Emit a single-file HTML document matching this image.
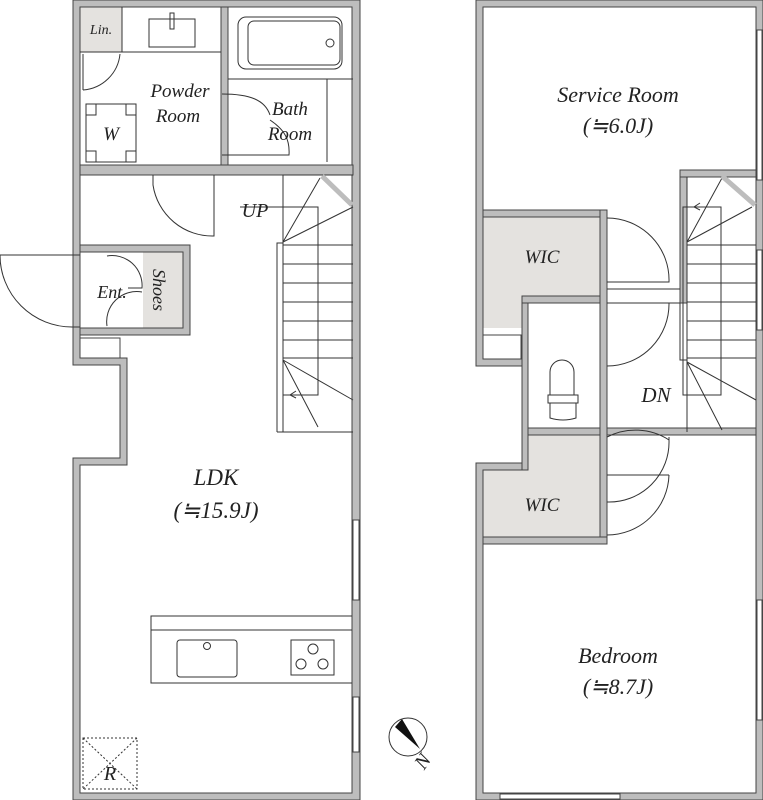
<!DOCTYPE html>
<html><head><style>body{margin:0;background:#fff}svg{display:block}</style></head><body>
<svg width="763" height="800" viewBox="0 0 763 800" xmlns="http://www.w3.org/2000/svg">
<g fill="#e4e2df" stroke="none">
<rect x="80" y="7" width="42" height="45"/>
<rect x="143" y="252" width="40" height="76"/>
<path d="M483 217H600V296H522V328H483Z"/>
<path d="M528 435H600V537H483V470H528Z"/>
</g>
<g fill="#bdbdbd" stroke="#444" stroke-width="1">
<path d="M73 0H360V800H73V458H120V365H73Z M80 7V358H127V465H80V793H352V7Z" fill-rule="evenodd"/>
<rect x="80" y="165" width="273" height="10"/>
<rect x="221" y="7" width="7" height="158"/>
<path d="M80 245H190V335H80V328H183V252H80Z"/>
<rect x="80" y="338" width="40" height="20" fill="#fff"/>
<path d="M476 0H763V800H476V463H522V366H476Z M483 7V359H528V470H483V793H756V7Z" fill-rule="evenodd"/>
<rect x="483" y="210" width="124" height="7"/>
<rect x="600" y="210" width="7" height="334"/>
<rect x="522" y="296" width="78" height="7"/>
<rect x="522" y="303" width="6" height="167"/>
<rect x="528" y="428" width="72" height="7"/>
<rect x="483" y="537" width="124" height="7"/>
<rect x="607" y="428" width="149" height="7"/>
<rect x="680" y="170" width="76" height="7"/>
<rect x="680" y="177" width="7" height="126"/>
<rect x="483" y="335" width="38" height="24" fill="#fff"/>
</g>
<g fill="#fff" stroke="#444" stroke-width="1">
<rect x="353" y="520" width="6" height="80"/><rect x="353" y="697" width="6" height="55"/>
<rect x="757" y="30" width="5" height="150"/><rect x="757" y="250" width="5" height="80"/><rect x="757" y="600" width="5" height="120"/>
<rect x="500" y="794" width="120" height="5"/>
</g>
<g fill="none" stroke="#333" stroke-width="1">
<line x1="80" y1="52" x2="221" y2="52"/><line x1="122" y1="7" x2="122" y2="52"/>
<rect x="149" y="19" width="46" height="28"/><rect x="170" y="13" width="4" height="16"/>
<path d="M83 90A40 40 0 0 0 120 54"/><line x1="83" y1="54" x2="83" y2="90"/>
<rect x="86" y="104" width="50" height="58"/>
<path d="M86 115h10v-11M126 104v11h10M86 151h10v11M126 162v-11h10"/>
<rect x="238" y="17" width="104" height="52" rx="8"/><rect x="248" y="21" width="92" height="44" rx="6"/>
<circle cx="330" cy="43" r="4"/>
<line x1="228" y1="79" x2="353" y2="79"/><line x1="327" y1="79" x2="327" y2="162"/>
<path d="M222 94C250 94 265 100 270 115M270 120C285 130 290 140 289 155H222"/>
<path d="M153 175V185A60 60 0 0 0 214 236V175"/>
<path d="M0 255H80M0 255A72 72 0 0 0 72 327H80"/>
<path d="M107 256A30 30 0 0 1 142 288H128"/><path d="M107 326A30 30 0 0 1 142 292"/>
<path d="M277 432V243H283V175H353M283 243V432H277M277 432H353"/>
<path d="M283 245H353M283 264H353M283 283H353M283 302H353M283 321H353M283 340H353M283 358H353"/>
<rect x="283" y="207" width="35" height="188"/>
<path d="M283 242L320 178M283 242L353 207M283 360L353 400M283 360L318 427"/>
<path d="M352 616H151V683H352M151 630H352"/>
<rect x="177" y="640" width="60" height="37" rx="3"/><circle cx="207" cy="646" r="3.5"/>
<rect x="291" y="640" width="43" height="35"/>
<circle cx="313" cy="649" r="5"/><circle cx="301" cy="664" r="5"/><circle cx="323" cy="664" r="5"/>
<path d="M83 738H137V789H83ZM83 738L137 789M137 738L83 789" stroke-dasharray="2 2"/>
<path d="M607 218A62 62 0 0 1 669 282H607M607 289H680"/>
<path d="M607 303H680M607 366A62 62 0 0 0 669 303"/>
<path d="M607 437A62 62 0 0 1 669 440V437M607 475H669M607 502A60 60 0 0 0 669 440"/>
<path d="M607 535A62 62 0 0 0 669 475"/>
<path d="M550 395V372A12 12 0 0 1 574 372V395"/><rect x="548" y="395" width="30" height="8"/>
<path d="M550 403V418Q563 422 576 418V403"/>
<path d="M680 303V360H687V177M687 360V432"/>
<path d="M687 245H756M687 264H756M687 283H756M687 302H756M687 321H756M687 340H756M687 358H756"/>
<rect x="683" y="207" width="38" height="188"/>
<path d="M687 242L722 178M687 242L752 207M687 362L756 400M687 362L722 430"/>
<path d="M718 207H694M700 203L694 207L700 210"/>
<path d="M318 395H290M296 391L290 395L296 398"/>
<line x1="240" y1="207" x2="318" y2="207"/>
<circle cx="408" cy="737" r="19"/>
</g>
<g stroke="#bdbdbd" stroke-width="5"><path d="M322 176L352 205M722 176L755 205"/></g>
<path d="M402 719L420 749L395 727Z" fill="#111"/>
<g font-family="Liberation Serif, serif" font-style="italic" fill="#222" text-anchor="middle">
<text x="101" y="34" font-size="14">Lin.</text>
<text x="180" y="97" font-size="19">Powder</text><text x="178" y="122" font-size="19">Room</text>
<text x="290" y="115" font-size="19">Bath</text><text x="290" y="140" font-size="19">Room</text>
<text x="111" y="140" font-size="19">W</text>
<text x="255" y="217" font-size="20">UP</text>
<text x="112" y="298" font-size="18">Ent.</text>
<text transform="translate(153,290) rotate(90)" font-size="18">Shoes</text>
<text x="216" y="485" font-size="23">LDK</text>
<text x="216" y="518" font-size="23">(≒15.9J)</text>
<text x="110" y="780" font-size="20">R</text>
<text transform="translate(428,765) rotate(-55)" font-size="20">N</text>
<text x="618" y="102" font-size="22">Service Room</text>
<text x="618" y="133" font-size="22">(≒6.0J)</text>
<text x="542" y="263" font-size="19">WIC</text>
<text x="542" y="511" font-size="19">WIC</text>
<text x="656" y="402" font-size="21">DN</text>
<text x="618" y="663" font-size="22">Bedroom</text>
<text x="618" y="694" font-size="22">(≒8.7J)</text>
</g>
</svg>
</body></html>
